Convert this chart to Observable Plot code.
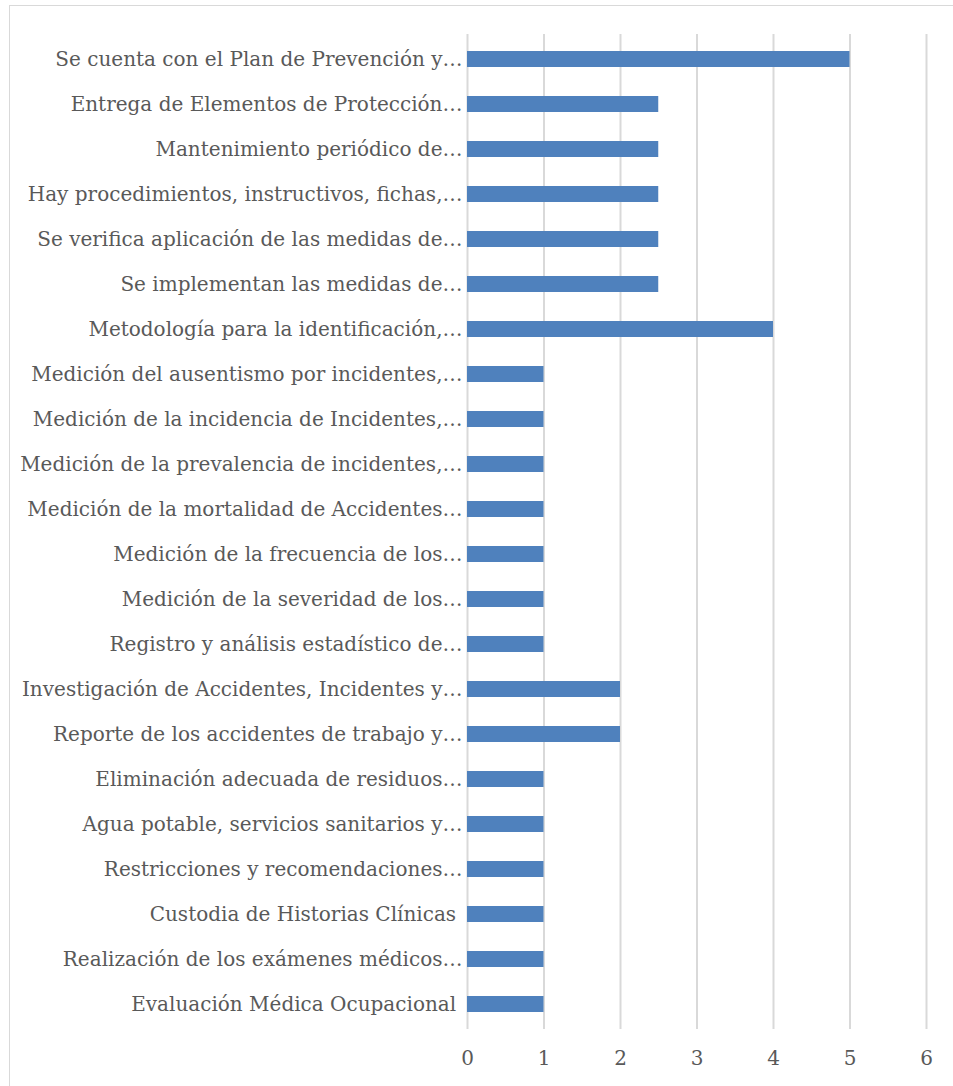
<!DOCTYPE html>
<html>
<head>
<meta charset="utf-8">
<script src="https://cdn.jsdelivr.net/npm/d3@7"></script>
<script src="https://cdn.jsdelivr.net/npm/@observablehq/plot@0.6"></script>
<style>
  html, body { margin: 0; padding: 0; background: #fff; }
  #wrap { position: relative; width: 953px; height: 1086px; overflow: hidden; }
  #frame { position: absolute; left: 9px; top: 5px; width: 960px; height: 1100px; border: 1.5px solid #d9d9d9; box-sizing: border-box; pointer-events: none; }
  #chart { position: absolute; left: 0; top: 0; }
</style>
</head>
<body>
<div id="wrap"><div id="frame"></div><div id="chart"></div></div>
<script>
const categories = [
  "Se cuenta con el Plan de Prevención y…",
  "Entrega de Elementos de Protección…",
  "Mantenimiento periódico de…",
  "Hay procedimientos, instructivos, fichas,…",
  "Se verifica aplicación de las medidas de…",
  "Se implementan las medidas de…",
  "Metodología para la identificación,…",
  "Medición del ausentismo por incidentes,…",
  "Medición de la incidencia de Incidentes,…",
  "Medición de la prevalencia de incidentes,…",
  "Medición de la mortalidad de Accidentes…",
  "Medición de la frecuencia de los…",
  "Medición de la severidad de los…",
  "Registro y análisis estadístico de…",
  "Investigación de Accidentes, Incidentes y…",
  "Reporte de los accidentes de trabajo y…",
  "Eliminación adecuada de residuos…",
  "Agua potable, servicios sanitarios y…",
  "Restricciones y recomendaciones…",
  "Custodia de Historias Clínicas\u00a0",
  "Realización de los exámenes médicos…",
  "Evaluación Médica Ocupacional\u00a0"
];
const values = [5, 2.5, 2.5, 2.5, 2.5, 2.5, 4, 1, 1, 1, 1, 1, 1, 1, 2, 2, 1, 1, 1, 1, 1, 1];
const xTicks = [0, 1, 2, 3, 4, 5, 6];

const data = categories.map((c, i) => ({category: c, value: values[i]}));

const chart = Plot.plot({
  width: 953,
  height: 1086,
  marginLeft: 467,
  marginRight: 27,
  marginTop: 34,
  marginBottom: 57,
  style: {fontFamily: "'DejaVu Serif', serif", background: "transparent"},
  x: {domain: [0, 6], ticks: xTicks, label: null},
  y: {domain: categories, label: null, paddingInner: 0.65, paddingOuter: 0.325},
  marks: [
    Plot.ruleX(xTicks, {stroke: "#d9d9d9", strokeWidth: 2, strokeOpacity: 1}),
    Plot.barX(data, {x: "value", y: "category", fill: "#4f81bd"}),
    Plot.axisY({tickSize: 0, tickPadding: 5, fontSize: 20, fill: "#595959", label: null}),
    Plot.axisX({ticks: xTicks, tickFormat: d3.format("d"), tickSize: 0, tickPadding: 21, fontSize: 20, fill: "#595959", label: null})
  ]
});
document.getElementById("chart").appendChild(chart);
</script>
</body>
</html>
